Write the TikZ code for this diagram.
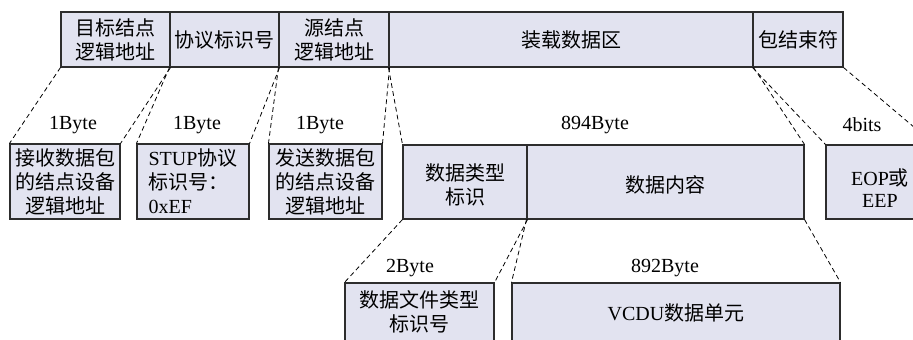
\documentclass[tikz,border=0pt]{standalone}
\usepackage{fontspec}
\setmainfont{Liberation Serif}
\newfontfamily\cjk{Noto Sans CJK SC}
\usetikzlibrary{fit}
\definecolor{boxfill}{RGB}{226,227,240}
\definecolor{edge}{RGB}{45,45,45}
\begin{document}
\begin{tikzpicture}[x=0.75pt,y=-0.75pt,
  cell/.style={draw=edge, fill=boxfill, line width=0.8pt, inner sep=0pt},
  txt/.style={inner sep=0pt, align=center, font=\cjk\fontsize{15}{18}\selectfont},
  mixtxt/.style={txt, font=\fontsize{15}{18}\selectfont},
  sizelbl/.style={inner sep=0pt, font=\fontsize{15}{18}\selectfont},
  link/.style={draw=black, line width=0.6pt, dash pattern=on 3.5pt off 2.5pt}]
\clip (0,0) rectangle (913,339);
\fill[white] (0,0) rectangle (913,339);
% top row
\node[cell, fit={(61,12) (170,67)}] (t1) {};
\node[cell, fit={(170,12) (279,67)}] (t2) {};
\node[cell, fit={(279,12) (389,67)}] (t3) {};
\node[cell, fit={(389,12) (753,67)}] (t4) {};
\node[cell, fit={(753,12) (843,67)}] (t5) {};
\node[txt] (t1text) at (t1.center) {目标结点\\逻辑地址};
\node[txt] (t2text) at (t2.center) {协议标识号};
\node[txt] (t3text) at (t3.center) {源结点\\逻辑地址};
\node[txt] (t4text) at (t4.center) {装载数据区};
\node[txt] (t5text) at (t5.center) {包结束符};
% second row
\node[cell, fit={(10,144) (120,219)}] (a) {};
\node[cell, fit={(137,144) (249,219)}] (b) {};
\node[cell, fit={(269,144) (382,219)}] (c) {};
\node[cell, fit={(403,145) (527,219)}] (d1) {};
\node[cell, fit={(527,145) (804,219)}] (d2) {};
\node[cell, fit={(826,145) (934,219)}] (e) {};
\node[txt] (atext) at (a.center) {接收数据包\\的结点设备\\逻辑地址};
\node[mixtxt, align=left] (btext) at (b.center) {STUP{\cjk 协议}\\{\cjk 标识号：}\\0xEF};
\node[txt] (ctext) at (c.center) {发送数据包\\的结点设备\\逻辑地址};
\node[txt] (d1text) at ([yshift=-2pt]d1.center) {数据类型\\标识};
\node[txt] (d2text) at ([yshift=-2pt]d2.center) {数据内容};
\node[mixtxt, font=\fontsize{15}{16}\selectfont] (etext) at (880,188) {EOP{\cjk 或}\\EEP};
% third row
\node[cell, fit={(345,283) (494,360)}] (f) {};
\node[cell, fit={(512,283) (840,360)}] (g) {};
\node[txt] (ftext) at (419.5,312) {数据文件类型\\标识号};
\node[mixtxt] (gtext) at (676,313) {VCDU{\cjk 数据单元}};
% size labels
\node[sizelbl] (l1) at (73,125) {1Byte};
\node[sizelbl] (l2) at (197,125) {1Byte};
\node[sizelbl] (l3) at (320,125) {1Byte};
\node[sizelbl] (l4) at (595,125) {894Byte};
\node[sizelbl] (l5) at (862,125) {4bits};
\node[sizelbl] (l6) at (410,268) {2Byte};
\node[sizelbl] (l7) at (665,268) {892Byte};
% connectors
\draw[link] (t1.south west) -- (a.north west);
\draw[link] (t1.south east) -- (a.north east);
\draw[link] (t2.south west) -- (b.north west);
\draw[link] (t2.south east) -- (b.north east);
\draw[link] (t3.south west) -- (c.north west);
\draw[link] (t3.south east) -- (c.north east);
\draw[link] (t4.south west) -- (d1.north west);
\draw[link] (t4.south east) -- (d2.north east);
\draw[link] (t5.south west) -- (e.north west);
\draw[link] (t5.south east) -- (e.north east);
\draw[link] (d1.south west) -- (f.north west);
\draw[link] (d1.south east) -- (f.north east);
\draw[link] (d2.south west) -- (g.north west);
\draw[link] (d2.south east) -- (g.north east);
\end{tikzpicture}
\end{document}
